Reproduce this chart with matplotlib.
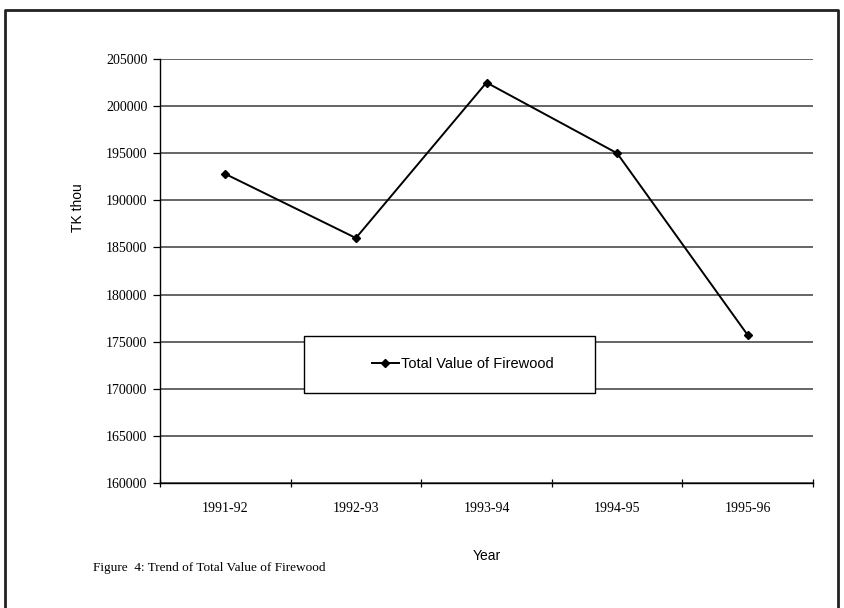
"""
Figure 4: Trend of Total Value of Firewood (TK thou), 1991-92 .. 1995-96.
"""
import matplotlib
matplotlib.use('Agg')
import matplotlib.pyplot as plt
from matplotlib.patches import Rectangle
from matplotlib.lines import Line2D

# ── data ──
years = ['1991-92', '1992-93', '1993-94', '1994-95', '1995-96']
firewood_value = [192800, 186000, 202500, 195000, 175700]
y_ticks = list(range(160000, 205001, 5000))

SERIF = 'Liberation Serif'
SANS = 'Liberation Sans'

fig = plt.figure(figsize=(8.44, 6.08), dpi=100)
ax = fig.add_axes([160 / 844, 1 - 483 / 608, 653 / 844, 424 / 608])

x = list(range(len(years)))
ax.plot(x, firewood_value, color='black', lw=1.4, marker='D', ms=4,
        mfc='black', mec='black', zorder=4, label='Total Value of Firewood')

ax.set_xlim(-0.5, len(years) - 0.5)
ax.set_ylim(y_ticks[0], y_ticks[-1])
ax.set_yticks(y_ticks)
ax.set_yticklabels([str(v) for v in y_ticks], fontfamily=SERIF, fontsize=10)

# category labels centered, ticks on the boundaries
ax.set_xticks(x)
ax.set_xticklabels(years, fontfamily=SERIF, fontsize=10)
ax.tick_params(axis='x', length=0, pad=14)
ax.set_xticks([i - 0.5 for i in range(len(years) + 1)], minor=True)
ax.tick_params(axis='x', which='minor', direction='inout', length=6, width=0.9)
ax.tick_params(axis='y', direction='out', length=5, width=0.9, pad=4)

# gridlines
ax.grid(axis='y', color='#3c3c3c', lw=1.1, zorder=1)
ax.set_axisbelow(True)
for s in ('top', 'right'):
    ax.spines[s].set_visible(False)
for s in ('left', 'bottom'):
    ax.spines[s].set_linewidth(1.0)

ax.set_ylabel('TK thou', fontfamily=SANS, fontsize=10)
ax.yaxis.set_label_coords(-0.115, 0.65)
ax.set_xlabel('Year', fontfamily=SANS, fontsize=10, labelpad=24)

# legend box (white, sits over the gridlines)
ax.add_patch(Rectangle((0.2205, 0.212), 0.4455, 0.135, transform=ax.transAxes,
                       facecolor='white', edgecolor='black', lw=1.0, zorder=3))
handle = Line2D([], [], color='black', lw=1.4, marker='D', ms=4)
leg = ax.legend([handle], ['Total Value of Firewood'], loc='center left',
                bbox_to_anchor=(0.305, 0.28), frameon=False, handlelength=1.8,
                handletextpad=0.2, prop={'family': SANS, 'size': 10.5})
leg.set_zorder(5)

# caption
fig.text(93 / 844, 1 - 568 / 608, 'Figure  4: Trend of Total Value of Firewood',
         fontfamily=SERIF, fontsize=9.5, va='center', ha='left')

# outer frame (open at the bottom)
frame = Line2D([5 / 844, 5 / 844, 838 / 844, 838 / 844],
               [-0.02, 1 - 10 / 608, 1 - 10 / 608, -0.02],
               transform=fig.transFigure, color='#222222', lw=2.0)
fig.add_artist(frame)

fig.savefig('out.png', dpi=100)
